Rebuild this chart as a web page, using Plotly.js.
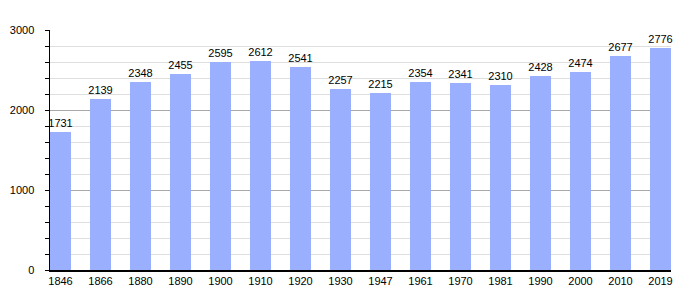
<!DOCTYPE html>
<html><head><meta charset="utf-8">
<script src="https://cdn.plot.ly/plotly-3.0.1.min.js"></script>
<style>body{margin:0;padding:0;background:#fff}#chart{width:700px;height:300px}</style>
</head><body><div id="chart"></div>
<script>
const years = ["1846","1866","1880","1890","1900","1910","1920","1930","1947","1961","1970","1981","1990","2000","2010","2019"];
const population = [1731,2139,2348,2455,2595,2612,2541,2257,2215,2354,2341,2310,2428,2474,2677,2776];
const yTicks = [0,1000,2000,3000];

const trace = {
  type: 'bar',
  x: years,
  y: population,
  width: 0.525,
  marker: {color: '#9ab0fe', line: {width: 0}},
  text: population.map(String),
  textposition: 'outside',
  constraintext: 'none',
  cliponaxis: false,
  textfont: {family: 'Liberation Sans, Arial, sans-serif', size: 11, color: '#000'},
  hoverinfo: 'none'
};

const layout = {
  width: 700, height: 300,
  margin: {l: 50, r: 29, t: 30, b: 30},
  paper_bgcolor: '#fff', plot_bgcolor: '#fff',
  showlegend: false,
  bargap: 0,
  font: {family: 'Liberation Sans, Arial, sans-serif', size: 11, color: '#000'},
  xaxis: {
    type: 'category',
    range: [-0.2625, 15.2625],
    showgrid: false,
    showline: true, linecolor: '#000', linewidth: 1.5,
    ticks: '', tickfont: {size: 11},
    fixedrange: true
  },
  yaxis: {
    range: [0, 3000],
    tickvals: yTicks,
    ticktext: yTicks.map(String),
    showgrid: true, gridcolor: '#a8a8a8', gridwidth: 1,
    showline: true, linecolor: '#000', linewidth: 1.5,
    ticks: 'outside', ticklen: 4, tickcolor: '#000',
    ticklabelstandoff: 8,
    minor: {dtick: 200, showgrid: true, gridcolor: '#dedede', ticks: 'outside', ticklen: 4, tickcolor: '#000'},
    zeroline: false,
    tickfont: {size: 11},
    fixedrange: true
  }
};

Plotly.newPlot('chart', [trace], layout, {displayModeBar: false, staticPlot: true});
</script>
</body></html>
